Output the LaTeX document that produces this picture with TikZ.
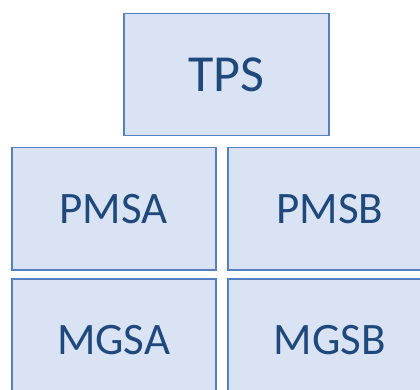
\documentclass[tikz,border=0pt]{standalone}
\usepackage{fontspec}
\setmainfont{Carlito}
\definecolor{boxfill}{HTML}{DAE3F3}
\definecolor{boxline}{HTML}{5580C4}
\definecolor{boxtext}{HTML}{1F497D}
\begin{document}
\begin{tikzpicture}[x=1pt,y=-1pt,
  blk/.style={draw=boxline,fill=boxfill,line width=1.5pt,text=boxtext,
    inner sep=0pt,anchor=north west},
  big/.style={font=\fontsize{52}{60}\selectfont},
  small/.style={font=\fontsize{45}{52}\selectfont}]
\useasboundingbox (0,0) rectangle (420,390);
\node[blk,big,minimum width=205pt,minimum height=122pt] (tps) at (123,13) {TPS};
\node[blk,small,minimum width=204pt,minimum height=122pt] (pmsa) at (11,147) {PMSA};
\node[blk,small,minimum width=204pt,minimum height=122pt] (pmsb) at (227,147) {PMSB};
\node[blk,small,minimum width=204pt,minimum height=122pt] (mgsa) at (11,278) {MGSA};
\node[blk,small,minimum width=204pt,minimum height=122pt] (mgsb) at (227,278) {MGSB};
\end{tikzpicture}
\end{document}
